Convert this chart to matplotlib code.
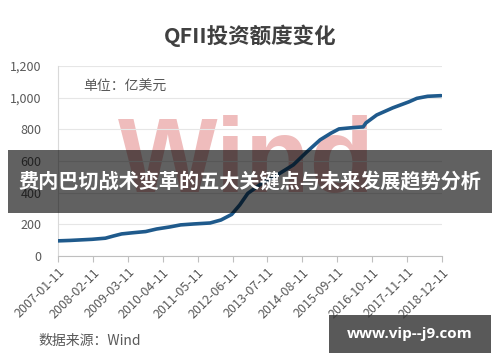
import numpy as np
import pandas as pd
import matplotlib
matplotlib.use('Agg')
import matplotlib.pyplot as plt
from matplotlib.patches import Rectangle

plt.rcParams['font.family'] = ['Noto Sans CJK SC', 'DejaVu Sans']

# QFII quota (100 million USD)
dates = ['2007-01', '2007-06', '2008-02', '2008-07', '2008-10', '2009-01', '2009-05',
         '2009-10', '2010-02', '2010-07', '2010-11', '2011-04', '2011-10', '2012-02',
         '2012-06', '2012-09', '2012-12', '2013-05', '2013-11', '2014-05', '2014-10',
         '2015-03', '2015-07', '2015-10', '2016-03', '2016-07', '2016-08', '2016-12',
         '2017-06', '2017-12', '2018-03', '2018-07', '2018-12']
quota = [95, 98, 105, 112, 126, 139, 146, 154, 170, 183, 196, 202, 208, 227,
         262, 322, 395, 455, 512, 575, 657, 733, 775, 802, 810, 815, 840, 890,
         935, 973, 995, 1008, 1012]

tick_dates = ['2007-01-11', '2008-02-11', '2009-03-11', '2010-04-11', '2011-05-11',
              '2012-06-11', '2013-07-11', '2014-08-11', '2015-09-11', '2016-10-11',
              '2017-11-11', '2018-12-11']
y_ticks = [0, 200, 400, 600, 800, 1000, 1200]

x = pd.to_datetime(dates)
xt = pd.to_datetime(tick_dates)

fig = plt.figure(figsize=(5, 3.62), dpi=100)
ax = fig.add_axes([0.116, 0.293, 0.768, 0.525])

ax.text(0.49, 0.48, 'Wind', transform=ax.transAxes, ha='center', va='center',
        fontsize=76, fontweight='bold', family='Liberation Sans', color='#efbcbc', zorder=0)

ax.plot(x, quota, color='#1f5a8c', lw=2.6, zorder=3, solid_capstyle='round')

ax.set_ylim(0, 1200)
ax.set_yticks(y_ticks)
ax.set_yticklabels(['{:,}'.format(v) for v in y_ticks])
ax.set_xlim(xt[0], xt[-1])
ax.set_xticks(xt)
ax.set_xticklabels(tick_dates, rotation=45, ha='right', rotation_mode='anchor')
ax.grid(axis='y', color='#e6e6e6', lw=0.8)
ax.set_axisbelow(True)
for s in ['top', 'right']:
    ax.spines[s].set_visible(False)
ax.spines['left'].set_color('#d9d9d9')
ax.spines['bottom'].set_color('#bfbfbf')
ax.tick_params(axis='y', length=0, pad=12, labelsize=9, labelcolor='#595959')
ax.tick_params(axis='x', length=4, color='#bfbfbf', pad=3, labelsize=9, labelcolor='#595959')

fig.text(0.5, 0.90, 'QFII投资额度变化', ha='center', va='center', fontsize=15.5,
         fontweight='bold', color='#404040')
fig.text(0.166, 0.76, '单位：亿美元', ha='left', va='center', fontsize=10, color='#595959')
fig.text(0.076, 0.058, '数据来源：Wind', ha='left', va='center', fontsize=10, color='#595959')

# overlay banner and site tag
fig.patches.append(Rectangle((0.016, 1 - 213 / 362), 0.968, 63 / 362, transform=fig.transFigure,
                             facecolor='black', alpha=0.62, zorder=5))
fig.text(0.5, 1 - 182 / 362, '费内巴切战术变革的五大关键点与未来发展趋势分析', ha='center', va='center',
         fontsize=14.5, fontweight='bold', color='white', zorder=6)
fig.patches.append(Rectangle((329 / 500, 1 - 353 / 362), 162 / 500, 38 / 362, transform=fig.transFigure,
                             facecolor='#3c3c3c', alpha=0.85, zorder=5))
fig.text(410 / 500, 1 - 334 / 362, 'www.vip--j9.com', ha='center', va='center',
         fontsize=11, fontweight='bold', family='Open Sans', color='white', zorder=6)

fig.savefig('out.png', dpi=100)
